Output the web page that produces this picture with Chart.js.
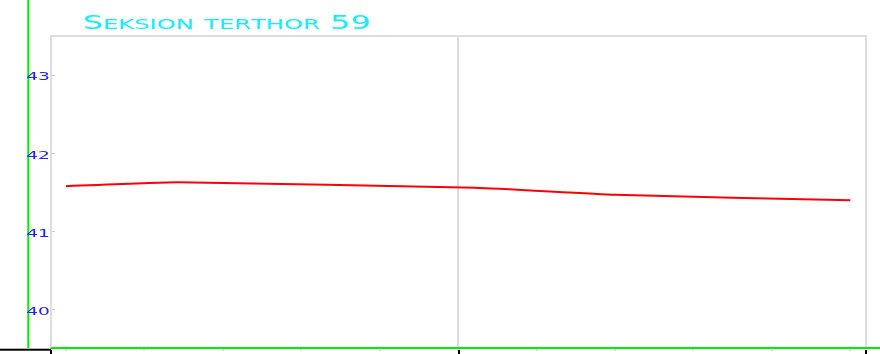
<!DOCTYPE html>
<html>
<head>
<meta charset="utf-8">
<script src="https://cdn.jsdelivr.net/npm/chart.js@4.4.1/dist/chart.umd.min.js"></script>
<style>
  html, body { margin: 0; padding: 0; background: #fff; }
  canvas { display: block; }
</style>
</head>
<body>
<canvas id="myChart" width="880" height="354"></canvas>
<script>
const titleText = 'Seksion terthor 59';
const xPositions = [0, 1.43, 5.22, 7.0, 10];
const seriesValues = [41.58, 41.63, 41.56, 41.47, 41.40];
const xTicks = [0, 1, 2, 3, 4, 5, 6, 7, 8, 9, 10];
const yTicks = [40, 41, 42, 43];
const xRange = [-0.19, 10.2];
const yRange = [39.5, 43.5];

const GRID = '#dddddd';
const GREEN = '#00ee00';

// draws the wide lettering by stretching normal glyphs horizontally
function wideText(ctx, text, x, y, stretch, align) {
  ctx.save();
  ctx.translate(x, y);
  ctx.scale(stretch, 1);
  ctx.textAlign = align;
  ctx.textBaseline = 'alphabetic';
  ctx.fillText(text, 0, 0);
  ctx.restore();
}

// small caps: lowercase letters become capitals at a smaller size
function smallCapsRuns(text) {
  return [...text].map(ch => {
    const lower = ch !== ch.toUpperCase();
    return { ch: ch.toUpperCase(), size: lower ? 14.4 : 19 };
  });
}

function drawTitle(ctx, text, x, baseline, width) {
  const runs = smallCapsRuns(text);
  let total = 0;
  runs.forEach(r => {
    ctx.font = r.size + 'px "DejaVu Sans"';
    r.w = ctx.measureText(r.ch).width;
    total += r.w;
  });
  const stretch = width / total;
  ctx.save();
  ctx.translate(x, baseline);
  ctx.scale(stretch, 1);
  ctx.textAlign = 'left';
  ctx.textBaseline = 'alphabetic';
  let cx = 0;
  runs.forEach(r => {
    ctx.font = r.size + 'px "DejaVu Sans"';
    ctx.fillText(r.ch, cx, 0);
    cx += r.w;
  });
  ctx.restore();
}

const decorations = {
  id: 'decorations',
  beforeDatasetsDraw(chart) {
    const { ctx, chartArea: a } = chart;
    ctx.save();
    ctx.strokeStyle = GRID;
    ctx.lineWidth = 2;
    ctx.beginPath();
    ctx.moveTo(a.left, a.top);
    ctx.lineTo(a.right, a.top);
    ctx.lineTo(a.right, a.bottom);
    ctx.stroke();
    ctx.restore();
  },
  afterDraw(chart) {
    const { ctx, chartArea: a, scales } = chart;
    ctx.save();

    // axis lines
    ctx.fillStyle = GREEN;
    ctx.fillRect(27.3, 0, 2, a.bottom - 1);
    ctx.fillRect(a.left, a.bottom - 2, chart.width - a.left, 2);
    ctx.fillStyle = '#000';
    ctx.fillRect(0, a.bottom - 0.3, a.left, 2);

    // major x ticks
    [a.left, scales.x.getPixelForValue(5) + 1, a.right].forEach(px => {
      ctx.fillRect(Math.round(px) - 1, a.bottom + 1, 2, chart.height - a.bottom);
    });

    // y labels
    ctx.fillStyle = '#2222ff';
    ctx.font = '11px "DejaVu Sans"';
    scales.y.ticks.forEach(t => {
      const py = scales.y.getPixelForValue(t.value);
      wideText(ctx, String(t.value), 50, py + 5.3, 1.7, 'right');
    });

    // title
    ctx.fillStyle = '#11eeff';
    drawTitle(ctx, titleText, 83, 29.3, 288);

    ctx.restore();
  }
};

new Chart(document.getElementById('myChart'), {
  type: 'line',
  data: {
    datasets: [{
      data: xPositions.map((x, i) => ({ x, y: seriesValues[i] })),
      borderColor: '#ff0000',
      borderWidth: 2,
      pointRadius: 0,
      tension: 0.15,
      fill: false
    }]
  },
  options: {
    responsive: false,
    animation: false,
    layout: { padding: { top: 36, right: 14, left: 0, bottom: 0 } },
    plugins: {
      legend: { display: false },
      tooltip: { enabled: false },
      title: { display: false }
    },
    scales: {
      x: {
        type: 'linear',
        min: xRange[0],
        max: xRange[1],
        afterBuildTicks: s => { s.ticks = xTicks.map(v => ({ value: v })); },
        afterFit: s => { s.height = 5; },
        ticks: { display: false },
        border: { display: false },
        grid: {
          color: c => (c.tick && c.tick.value === 5 ? GRID : 'transparent'),
          lineWidth: 2,
          tickColor: '#bbbbbb',
          tickWidth: 1,
          tickLength: 2
        }
      },
      y: {
        type: 'linear',
        min: yRange[0],
        max: yRange[1],
        afterBuildTicks: s => { s.ticks = yTicks.map(v => ({ value: v })); },
        afterFit: s => { s.width = 51; },
        ticks: { display: false },
        border: { display: true, color: GRID, width: 2 },
        grid: {
          drawOnChartArea: false,
          tickColor: '#cccccc',
          tickWidth: 1,
          tickLength: -4
        }
      }
    }
  },
  plugins: [decorations]
});
</script>
</body>
</html>
